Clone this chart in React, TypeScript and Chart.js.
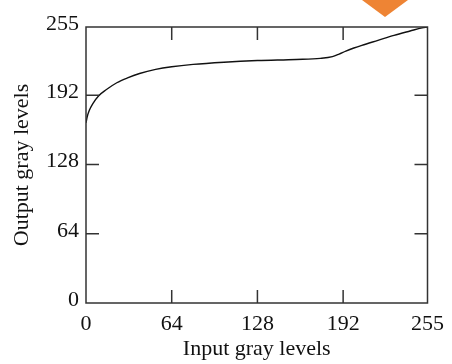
import React, { useEffect, useRef } from "react";
import { Chart, registerables } from "chart.js";

Chart.register(...registerables);

const inputLevels = [0, 1, 2.5, 5, 9.5, 15, 23, 31, 40, 52, 64, 80, 103, 128, 157, 175, 184, 189, 194, 200, 206, 218, 230, 242, 251, 255];
const outputLevels = [166.5, 172.5, 178, 184, 191.5, 197, 203.5, 208, 212, 215.8, 218.3, 220.5, 222.5, 224, 225, 226, 227.6, 230, 232.8, 235.6, 238.1, 242.7, 247.3, 251.3, 254.2, 255];
const tickValues = [0, 64, 128, 192, 255];
const innerTickValues = [64, 128, 192];
const xTitle = "Input gray levels";
const yTitle = "Output gray levels";

const FONT = "'Liberation Serif', 'Times New Roman', serif";

const framePlugin = {
  id: "frameTicks",
  afterDatasetsDraw(chart: any) {
    const { ctx, chartArea, scales } = chart;
    const { left, right, top, bottom } = chartArea;
    const len = 13;
    ctx.save();
    ctx.strokeStyle = "#333";
    ctx.lineWidth = 1.5;
    ctx.beginPath();
    for (const v of innerTickValues) {
      const x = scales.x.getPixelForValue(v);
      ctx.moveTo(x, bottom);
      ctx.lineTo(x, bottom - len);
      ctx.moveTo(x, top);
      ctx.lineTo(x, top + len);
      const y = scales.y.getPixelForValue(v);
      ctx.moveTo(left, y);
      ctx.lineTo(left + len, y);
      ctx.moveTo(right, y);
      ctx.lineTo(right - len, y);
    }
    ctx.stroke();
    ctx.strokeRect(left, top, right - left, bottom - top);
    ctx.restore();
  },
};

export default function App() {
  const ref = useRef<HTMLCanvasElement>(null);
  useEffect(() => {
    if (!ref.current) return;
    const chart = new Chart(ref.current, {
      type: "scatter",
      data: {
        datasets: [
          {
            data: inputLevels.map((x, i) => ({ x, y: outputLevels[i] })),
            showLine: true,
            borderColor: "#111",
            borderWidth: 1.4,
            pointRadius: 0,
            cubicInterpolationMode: "monotone",
          } as any,
        ],
      },
      options: {
        animation: false,
        responsive: false,
        maintainAspectRatio: false,
        layout: { padding: { top: 27, right: 18, left: 0, bottom: 0 } },
        plugins: { legend: { display: false }, tooltip: { enabled: false } },
        scales: {
          x: {
            type: "linear",
            min: 0,
            max: 255,
            grid: { display: false, drawTicks: false },
            border: { display: false },
            afterBuildTicks: (s: any) => {
              s.ticks = tickValues.map((v) => ({ value: v }));
            },
            afterFit: (s: any) => {
              s.height = 61;
            },
            ticks: {
              color: "#111",
              font: { family: FONT, size: 22 },
              padding: 8,
              maxRotation: 0,
              autoSkip: false,
            },
            title: {
              display: true,
              text: xTitle,
              color: "#111",
              font: { family: FONT, size: 22 },
              padding: { top: 0, bottom: 2 },
            },
          },
          y: {
            type: "linear",
            min: 0,
            max: 255,
            grid: { display: false, drawTicks: false },
            border: { display: false },
            afterBuildTicks: (s: any) => {
              s.ticks = tickValues.map((v) => ({ value: v }));
            },
            afterFit: (s: any) => {
              s.width = 86;
            },
            ticks: {
              color: "#111",
              font: { family: FONT, size: 22 },
              padding: 7,
              labelOffset: -3,
              autoSkip: false,
            },
            title: {
              display: true,
              text: yTitle,
              color: "#111",
              font: { family: FONT, size: 22 },
              padding: { top: 9, bottom: 0 },
            },
          },
        },
      },
      plugins: [framePlugin],
    });
    return () => chart.destroy();
  }, []);
  return (
    <div style={{ position: "fixed", left: 0, top: 0, width: 452, height: 364, background: "#fff", overflow: "hidden" }}>
      <canvas ref={ref} width={452} height={364} style={{ display: "block" }} />
      <div
        style={{
          position: "absolute",
          left: 362,
          top: 0,
          width: 46,
          height: 17,
          background: "#EE8434",
          clipPath: "polygon(0 0, 100% 0, 50% 100%)",
        }}
      />
    </div>
  );
}
